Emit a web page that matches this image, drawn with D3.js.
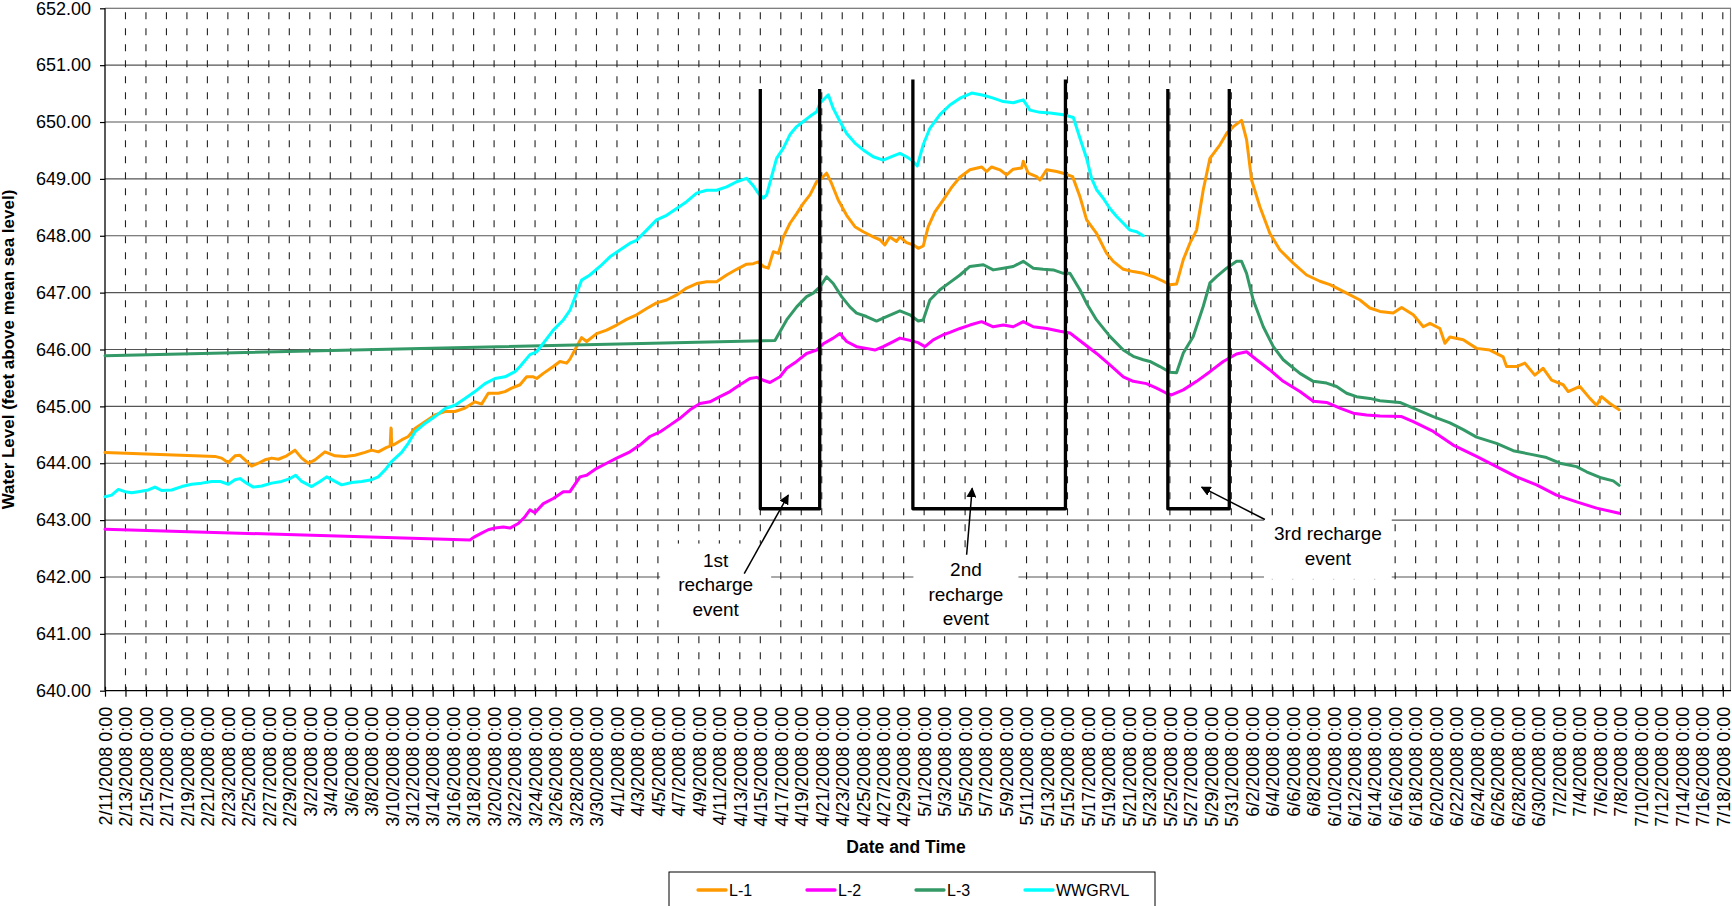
<!DOCTYPE html>
<html><head><meta charset="utf-8">
<script src="https://cdn.jsdelivr.net/npm/d3@7"></script>
<style>
body{margin:0;background:#fff;}
text{font-family:"Liberation Sans",Arial,sans-serif;fill:#000;}
</style>
</head><body>
<svg id="chart" width="1732" height="906"></svg>
<script>
// ---------------- DATA ----------------
// x values are days since the first category date (2/11/2008 0:00)
const startDate = "2008-02-11T00:00";
const axisEndDays = 158.8;            // right edge of the plot area (just past 7/18/2008)
const tickStepDays = 2;               // one category label every 2 days
const lastTickDays = 158;             // 7/18/2008 0:00
const yTickValues = [640, 641, 642, 643, 644, 645, 646, 647, 648, 649, 650, 651, 652];

const seriesNames  = ["L-1", "L-2", "L-3", "WWGRVL"];
const seriesColors = ["#FF9900", "#FF00FF", "#339966", "#00FFFF"];

const l1 = [[0,644.19],[10.74,644.12],[11.39,644.09],[12.04,644.01],[12.70,644.13],[13.18,644.14],[13.67,644.06],[14.32,643.95],[14.97,644.00],[15.63,644.06],[16.28,644.09],[16.93,644.07],[17.74,644.13],[18.55,644.23],[19.21,644.09],[19.86,644.00],[20.51,644.06],[21.48,644.20],[22.46,644.13],[23.44,644.12],[24.41,644.14],[25.39,644.19],[26.04,644.23],[26.69,644.20],[27.51,644.28],[27.85,644.30],[27.93,644.62],[28.0,644.34],[28.16,644.32],[28.97,644.41],[29.62,644.47],[30.27,644.61],[31.25,644.73],[32.23,644.85],[33.20,644.91],[34.18,644.91],[35.16,644.97],[36.13,645.08],[36.78,645.04],[37.43,645.23],[38.41,645.23],[39.06,645.26],[39.71,645.32],[40.53,645.38],[41.18,645.52],[41.83,645.52],[42.16,645.49],[42.81,645.58],[43.78,645.70],[44.43,645.79],[45.09,645.76],[45.41,645.83],[46.06,646.05],[46.55,646.21],[47.04,646.14],[48.02,646.28],[48.99,646.34],[49.97,646.43],[50.94,646.53],[51.92,646.61],[52.90,646.72],[53.87,646.82],[54.85,646.87],[55.83,646.96],[56.80,647.08],[57.78,647.16],[58.76,647.19],[59.73,647.19],[60.71,647.31],[61.69,647.41],[62.66,647.50],[63.31,647.51],[63.80,647.54],[64.29,647.46],[64.78,647.43],[65.27,647.72],[65.76,647.69],[66.25,647.98],[66.90,648.22],[67.55,648.39],[68.20,648.57],[68.85,648.72],[69.50,648.95],[69.99,649.01],[70.47,649.10],[70.96,648.92],[71.61,648.63],[72.43,648.36],[73.24,648.16],[74.05,648.07],[75.03,647.98],[75.68,647.93],[76.16,647.84],[76.65,647.98],[77.30,647.90],[77.63,647.98],[78.28,647.88],[78.93,647.84],[79.42,647.78],[79.91,647.82],[80.40,648.16],[81.05,648.42],[81.87,648.63],[82.68,648.85],[83.49,649.03],[84.47,649.16],[85.61,649.21],[86.10,649.13],[86.59,649.21],[87.40,649.16],[88.05,649.07],[88.70,649.17],[89.52,649.19],[89.68,649.31],[90.17,649.10],[90.99,649.04],[91.31,648.98],[91.96,649.16],[92.94,649.13],[93.75,649.09],[94.50,649.04],[95.21,648.69],[95.87,648.28],[96.84,648.04],[97.82,647.69],[98.47,647.55],[99.45,647.41],[100.42,647.37],[101.40,647.34],[102.38,647.28],[103.35,647.20],[104.00,647.14],[104.65,647.15],[105.31,647.58],[105.96,647.87],[106.61,648.10],[107.26,648.81],[107.91,649.36],[108.89,649.60],[109.54,649.80],[110.19,649.92],[111.00,650.03],[111.49,649.69],[111.98,648.98],[112.79,648.51],[113.77,648.04],[114.75,647.75],[116.05,647.52],[117.35,647.31],[118.65,647.20],[119.63,647.14],[121.26,646.99],[122.56,646.87],[123.53,646.73],[124.51,646.67],[125.81,646.64],[126.63,646.74],[127.77,646.61],[128.75,646.40],[129.40,646.46],[130.37,646.37],[130.86,646.11],[131.35,646.22],[132.65,646.17],[133.95,646.02],[135.25,645.99],[136.55,645.87],[136.88,645.70],[137.85,645.70],[138.67,645.76],[139.64,645.55],[140.46,645.67],[141.28,645.46],[142.41,645.38],[142.90,645.26],[144.04,645.35],[145.02,645.14],[145.67,645.02],[146.16,645.17],[146.97,645.05],[147.88,644.94]];

const l2 = [[0,642.84],[35.64,642.65],[36.13,642.71],[36.78,642.77],[37.43,642.83],[38.09,642.86],[38.90,642.88],[39.55,642.86],[40.36,642.94],[41.02,643.06],[41.50,643.18],[41.99,643.13],[42.81,643.29],[43.78,643.38],[44.76,643.50],[45.41,643.50],[46.39,643.76],[47.04,643.79],[48.02,643.91],[48.99,644.00],[49.97,644.09],[51.27,644.20],[52.24,644.32],[53.22,644.47],[54.20,644.55],[55.18,644.67],[56.15,644.79],[57.13,644.94],[58.11,645.05],[59.08,645.08],[60.06,645.17],[61.04,645.26],[62.01,645.38],[62.99,645.49],[63.64,645.51],[64.29,645.46],[64.94,645.42],[65.92,645.52],[66.57,645.67],[67.55,645.79],[68.52,645.93],[69.50,645.99],[70.15,646.10],[71.12,646.20],[71.78,646.28],[72.43,646.14],[73.40,646.05],[74.37,646.02],[75.19,645.99],[76.00,646.05],[76.98,646.14],[77.63,646.20],[78.61,646.16],[79.42,646.12],[80.08,646.05],[80.89,646.17],[81.87,646.26],[82.52,646.30],[83.50,646.37],[84.47,646.43],[85.61,646.49],[86.75,646.40],[87.73,646.43],[88.70,646.40],[89.68,646.49],[90.66,646.40],[91.96,646.37],[93.26,646.32],[94.24,646.29],[95.54,646.11],[96.84,645.93],[98.14,645.73],[99.45,645.52],[100.42,645.44],[101.72,645.40],[102.70,645.32],[103.68,645.23],[104.16,645.20],[105.31,645.29],[106.61,645.44],[107.91,645.61],[109.21,645.79],[110.51,645.92],[111.49,645.96],[112.47,645.82],[113.77,645.64],[115.07,645.44],[116.70,645.26],[118.00,645.09],[119.30,645.07],[120.60,644.97],[121.91,644.88],[123.21,644.85],[124.51,644.83],[126.63,644.82],[127.77,644.73],[129.72,644.56],[131.67,644.32],[133.95,644.12],[135.90,643.94],[137.85,643.76],[139.81,643.62],[141.76,643.44],[143.72,643.32],[145.67,643.21],[147.88,643.12]];

const l3 = [[0,645.89],[65.43,646.16],[66.57,646.52],[67.55,646.75],[68.52,646.93],[69.17,646.99],[69.82,647.10],[70.47,647.28],[71.12,647.16],[71.94,646.93],[72.75,646.75],[73.40,646.64],[74.37,646.58],[75.35,646.50],[76.33,646.58],[77.63,646.68],[78.61,646.61],[79.42,646.50],[79.91,646.52],[80.56,646.87],[81.54,647.05],[82.52,647.18],[83.50,647.31],[84.47,647.46],[85.78,647.49],[86.75,647.40],[87.73,647.43],[88.70,647.46],[89.68,647.55],[90.66,647.43],[91.63,647.41],[92.61,647.40],[93.59,647.34],[94.24,647.34],[95.21,647.05],[95.87,646.81],[96.84,646.52],[98.14,646.23],[99.45,645.99],[100.42,645.88],[101.40,645.82],[102.05,645.79],[103.03,645.70],[104.00,645.60],[104.65,645.59],[105.31,645.94],[106.28,646.23],[107.26,646.76],[107.91,647.17],[108.56,647.28],[109.54,647.43],[110.51,647.55],[111.00,647.55],[111.49,647.34],[112.14,646.87],[113.12,646.40],[114.10,646.05],[115.07,645.82],[116.70,645.58],[118.00,645.44],[119.30,645.41],[120.28,645.35],[121.26,645.23],[122.23,645.17],[123.53,645.14],[124.51,645.10],[126.46,645.07],[127.77,644.97],[129.72,644.82],[131.35,644.71],[132.65,644.59],[133.95,644.46],[135.90,644.35],[137.53,644.22],[139.16,644.16],[140.79,644.10],[142.09,644.00],[143.72,643.94],[144.69,643.85],[146.00,643.75],[147.30,643.69],[147.88,643.61]];

const wwgrvl = [[0,643.41],[0.65,643.44],[1.30,643.54],[1.95,643.50],[2.60,643.48],[3.26,643.50],[4.23,643.53],[4.88,643.58],[5.53,643.52],[6.51,643.53],[7.49,643.59],[8.46,643.63],[9.44,643.65],[10.42,643.68],[11.23,643.68],[12.04,643.63],[12.70,643.71],[13.18,643.73],[13.83,643.65],[14.49,643.58],[15.30,643.60],[16.28,643.65],[17.25,643.68],[18.07,643.73],[18.62,643.79],[19.21,643.68],[20.18,643.59],[21.00,643.68],[21.65,643.76],[22.46,643.68],[23.11,643.62],[24.09,643.66],[25.07,643.68],[26.04,643.71],[26.69,643.76],[27.34,643.88],[27.99,644.03],[28.97,644.19],[29.62,644.35],[30.27,644.55],[31.25,644.70],[32.23,644.82],[33.20,644.96],[34.18,645.02],[35.16,645.14],[36.13,645.26],[37.11,645.40],[38.09,645.49],[39.06,645.52],[40.04,645.61],[40.53,645.70],[41.50,645.91],[42.16,645.96],[42.81,646.11],[43.78,646.34],[44.76,646.52],[45.41,646.69],[46.06,646.99],[46.55,647.22],[47.36,647.31],[48.34,647.46],[49.32,647.63],[50.29,647.75],[51.27,647.87],[51.92,647.92],[52.90,648.10],[53.87,648.28],[54.85,648.36],[55.83,648.48],[56.80,648.60],[57.78,648.75],[58.76,648.80],[59.73,648.80],[60.71,648.86],[61.69,648.95],[62.66,649.01],[63.31,648.88],[63.80,648.75],[64.29,648.66],[64.62,648.72],[65.10,649.04],[65.59,649.36],[66.25,649.54],[66.90,649.78],[67.55,649.92],[68.20,650.01],[68.85,650.10],[69.50,650.18],[69.82,650.33],[70.64,650.48],[71.12,650.24],[71.78,650.01],[72.43,649.80],[73.24,649.63],[74.05,649.51],[75.03,649.39],[76.00,649.33],[76.82,649.39],[77.63,649.45],[78.28,649.39],[78.77,649.33],[79.33,649.23],[79.91,649.60],[80.56,649.89],[81.54,650.13],[82.52,650.30],[83.50,650.42],[84.64,650.51],[85.78,650.47],[86.75,650.42],[87.73,650.36],[88.70,650.34],[89.68,650.39],[90.33,650.21],[91.31,650.17],[92.29,650.16],[93.59,650.13],[94.57,650.08],[95.21,649.72],[95.87,649.36],[96.35,649.01],[96.84,648.81],[97.49,648.66],[98.14,648.48],[98.80,648.34],[99.45,648.22],[100.10,648.10],[100.75,648.07],[101.40,648.00]];

const seriesData = [l1, l2, l3, wwgrvl];

// recharge event brackets (open-top boxes): [leftDay, rightDay, topValue, bottomValue]
const brackets = [[64.0, 69.8, 650.58, 643.2], [78.9, 93.8, 650.75, 643.2], [103.8, 109.8, 650.58, 643.2]];
// annotation labels: lines, center day, value of first line centre
const noteLines  = [["1st", "recharge", "event"], ["2nd", "recharge", "event"], ["3rd recharge", "event"]];
const notePos    = [[59.64, 642.30], [84.08, 642.13], [119.43, 642.76]];
// arrows: [fromDay, fromValue, toDay, toValue]
const arrows = [[62.43, 642.06, 66.73, 643.44], [84.15, 642.39, 84.69, 643.56], [113.28, 643.01, 107.1, 643.58]];

const yTitle = "Water Level (feet above mean sea level)";
const xTitle = "Date and Time";

// ---------------- CHART ----------------
const W = 1732, H = 906;
const margin = {left: 105, top: 8.3, right: 1, bottom: 215.3};
const svg = d3.select("#chart");
const start = new Date(startDate);
const dayDate = d => new Date(start.getTime() + d * 864e5);

const x = d3.scaleTime().domain([start, dayDate(axisEndDays)]).range([margin.left, W - margin.right]);
const y = d3.scaleLinear().domain([640, 652]).range([H - margin.bottom, margin.top]);
const X = d => x(dayDate(d));

const tickDates = d3.range(0, lastTickDays + 1, tickStepDays).map(dayDate);
const fmt = d3.timeFormat("%-m/%-d/%Y 0:00");

const x0 = margin.left, x1 = W - margin.right, yTop = margin.top, yBot = H - margin.bottom;

// horizontal gridlines
svg.append("g").selectAll("line").data(yTickValues.filter(v => v > 640)).join("line")
  .attr("x1", x0).attr("x2", x1).attr("y1", d => y(d)).attr("y2", d => y(d))
  .attr("stroke", "#555").attr("stroke-width", 1.1);
// right border
svg.append("line").attr("x1", x1 - 0.5).attr("x2", x1 - 0.5).attr("y1", yTop).attr("y2", yBot)
  .attr("stroke", "#777").attr("stroke-width", 1.1);

// vertical dashed gridlines
svg.append("g").selectAll("line").data(tickDates.slice(1)).join("line")
  .attr("x1", d => x(d)).attr("x2", d => x(d)).attr("y1", yTop).attr("y2", yBot)
  .attr("stroke", "#222").attr("stroke-width", 1.1).attr("stroke-dasharray", "7,9").attr("stroke-dashoffset", -4);

// white text boxes for annotations (they hide the gridlines)
const noteG = svg.append("g");
const noteFont = 19, noteLH = 24.5;
const notePadX = [18, 15, 10], notePadTop = [6, 6, 6], notePadBottom = [12, 2, 10];
noteLines.forEach((lines, i) => {
  const g = noteG.append("g");
  const cx = X(notePos[i][0]), cy = y(notePos[i][1]);
  const rect = g.append("rect").attr("fill", "#fff");
  const t = g.append("text").attr("text-anchor", "middle").style("font-size", noteFont + "px");
  lines.forEach((ln, j) => t.append("tspan").attr("x", cx).attr("y", cy + j * noteLH).attr("dy", "0.35em").text(ln));
  const bb = t.node().getBBox();
  rect.attr("x", bb.x - notePadX[i]).attr("y", bb.y - notePadTop[i])
    .attr("width", bb.width + 2 * notePadX[i]).attr("height", bb.height + notePadTop[i] + notePadBottom[i]);
});

// axes lines
svg.append("line").attr("x1", x0).attr("x2", x0).attr("y1", yTop).attr("y2", yBot).attr("stroke", "#000").attr("stroke-width", 1.3);
svg.append("line").attr("x1", x0).attr("x2", x1).attr("y1", yBot).attr("y2", yBot).attr("stroke", "#000").attr("stroke-width", 1.3);

// y ticks + labels
const yAxis = d3.axisLeft(y).tickValues(yTickValues).tickSize(5).tickFormat(d3.format(".2f"));
const gy = svg.append("g").attr("transform", `translate(${x0},0)`).call(yAxis);
gy.select(".domain").remove();
gy.selectAll(".tick line").attr("stroke", "#000").attr("stroke-width", 1.2);
gy.selectAll(".tick text").attr("x", -14).style("font-size", "18px").style("font-family", '"Liberation Sans",Arial,sans-serif').attr("fill", "#000");

// x ticks + labels
const xAxis = d3.axisBottom(x).tickValues(tickDates).tickSize(0).tickFormat(fmt);
const gx = svg.append("g").attr("transform", `translate(0,${yBot})`).call(xAxis);
gx.select(".domain").remove();
gx.selectAll(".tick").append("line").attr("y1", -4).attr("y2", 6).attr("stroke", "#000").attr("stroke-width", 1.2);
gx.selectAll(".tick text")
  .attr("transform", "rotate(-90)")
  .attr("text-anchor", "end")
  .attr("x", -16).attr("y", 0).attr("dy", "0.35em")
  .style("font-size", "18px").style("font-family", '"Liberation Sans",Arial,sans-serif').attr("fill", "#000");

// series
const line = d3.line().x(d => X(d[0])).y(d => y(d[1]));
svg.append("g").selectAll("path").data(seriesData).join("path")
  .attr("d", line).attr("fill", "none")
  .attr("stroke", (d, i) => seriesColors[i]).attr("stroke-width", 3)
  .attr("stroke-linejoin", "round").attr("stroke-linecap", "round");

// brackets
svg.append("g").selectAll("path").data(brackets).join("path")
  .attr("d", b => `M${X(b[0])},${y(b[2])}V${y(b[3])}H${X(b[1])}V${y(b[2])}`)
  .attr("fill", "none").attr("stroke", "#000").attr("stroke-width", 3.3).attr("stroke-linejoin", "round");

// arrows
svg.append("defs").append("marker").attr("id", "ah").attr("viewBox", "0 0 10 10")
  .attr("refX", 9).attr("refY", 5).attr("markerWidth", 10).attr("markerHeight", 10)
  .attr("markerUnits", "userSpaceOnUse").attr("orient", "auto")
  .append("path").attr("d", "M0,0L10,5L0,10Z").attr("fill", "#000");
svg.append("g").selectAll("line").data(arrows).join("line")
  .attr("x1", a => X(a[0])).attr("y1", a => y(a[1])).attr("x2", a => X(a[2])).attr("y2", a => y(a[3]))
  .attr("stroke", "#000").attr("stroke-width", 1.5).attr("marker-end", "url(#ah)");

// axis titles
svg.append("text").attr("transform", `translate(14,${(yTop + yBot) / 2}) rotate(-90)`)
  .attr("text-anchor", "middle").style("font-size", "17px").style("font-weight", "bold").text(yTitle);
svg.append("text").attr("x", (x0 + x1) / 2 - 12).attr("y", 853)
  .attr("text-anchor", "middle").style("font-size", "17.5px").style("font-weight", "bold").text(xTitle);

// legend
const lg = svg.append("g");
const legLeft = 669, legTop = 872, legRight = 1155;
lg.append("rect").attr("x", legLeft).attr("y", legTop).attr("width", legRight - legLeft).attr("height", 40)
  .attr("fill", "#fff").attr("stroke", "#000").attr("stroke-width", 1);
const legX = d3.scalePoint().domain(seriesNames).range([698, 1025]);
seriesNames.forEach((n, i) => {
  lg.append("line").attr("x1", legX(n)).attr("x2", legX(n) + 28).attr("y1", 890).attr("y2", 890)
    .attr("stroke", seriesColors[i]).attr("stroke-width", 3.3).attr("stroke-linecap", "round");
  lg.append("text").attr("x", legX(n) + 31).attr("y", 896).style("font-size", "16px").text(n);
});
</script>
</body></html>
